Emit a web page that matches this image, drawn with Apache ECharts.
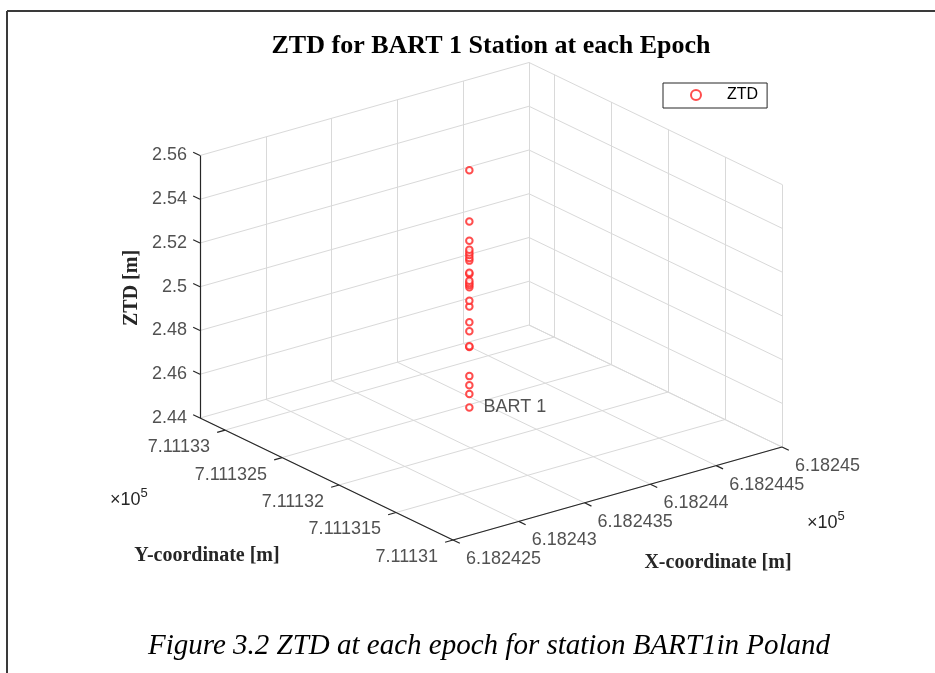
<!DOCTYPE html>
<html>
<head>
<meta charset="utf-8">
<title>ZTD for BART 1 Station at each Epoch</title>
<script src="https://cdn.jsdelivr.net/npm/echarts@6/dist/echarts.min.js"></script>
<style>
  html, body { margin: 0; padding: 0; background: #fff; }
  #chart { width: 935px; height: 673px; }
</style>
</head>
<body>
<div id="chart"></div>
<script>
  // axis ticks (metres), as shown on the plot
  var xTicks = [618242.5, 618243.0, 618243.5, 618244.0, 618244.5, 618245.0];
  var xTickLabels = ['6.182425', '6.18243', '6.182435', '6.18244', '6.182445', '6.18245'];
  var yTicks = [711131.0, 711131.5, 711132.0, 711132.5, 711133.0];
  var yTickLabels = ['7.11131', '7.111315', '7.11132', '7.111325', '7.11133'];
  var zTicks = [2.44, 2.46, 2.48, 2.50, 2.52, 2.54, 2.56];
  var zTickLabels = ['2.44', '2.46', '2.48', '2.5', '2.52', '2.54', '2.56'];

  // axis limits
  var xLim = [618242.5, 618245.0];
  var yLim = [711131.0, 711133.22];
  var zLim = [2.44, 2.56];

  // station position and ZTD per epoch
  var stationName = 'BART 1';
  var stationX = 618243.75;
  var stationY = 711132.30;
  var ztd = [2.4467, 2.4528, 2.4568, 2.4610, 2.4743, 2.4747, 2.4815, 2.4856,
             2.4928, 2.4955, 2.5016, 2.5027, 2.5036, 2.5046, 2.5077, 2.5083,
             2.5138, 2.5150, 2.5164, 2.5175, 2.5188, 2.5229, 2.5317, 2.5551];

  // view of the 3d box (orthographic, like matlab's default view)
  var origin = [453, 540];      // corner xLim[0], yLim[0], zLim[0]
  var ex = [329, -93];          // full x range
  var ey = [-253, -122];        // full y range
  var ez = [0, -262.5];         // full z range

  function proj(x, y, z) {
    var u = (x - xLim[0]) / (xLim[1] - xLim[0]);
    var v = (y - yLim[0]) / (yLim[1] - yLim[0]);
    var w = (z - zLim[0]) / (zLim[1] - zLim[0]);
    return [origin[0] + u * ex[0] + v * ey[0] + w * ez[0],
            origin[1] + u * ex[1] + v * ey[1] + w * ez[1]];
  }
  function seg(a, b) {
    return { coords: [proj(a[0], a[1], a[2]), proj(b[0], b[1], b[2])] };
  }

  // grid lines on floor and two back walls
  var gridLines = [];
  xTicks.forEach(function (x) {
    gridLines.push(seg([x, yLim[0], zLim[0]], [x, yLim[1], zLim[0]]));   // floor
    gridLines.push(seg([x, yLim[1], zLim[0]], [x, yLim[1], zLim[1]]));   // back wall
  });
  yTicks.forEach(function (y) {
    gridLines.push(seg([xLim[0], y, zLim[0]], [xLim[1], y, zLim[0]]));   // floor
    gridLines.push(seg([xLim[1], y, zLim[0]], [xLim[1], y, zLim[1]]));   // right wall
  });
  zTicks.forEach(function (z) {
    gridLines.push(seg([xLim[0], yLim[1], z], [xLim[1], yLim[1], z]));
    gridLines.push(seg([xLim[1], yLim[1], z], [xLim[1], yLim[0], z]));
  });

  // axis lines and tick marks
  var tx = 0.06, ty = 0.06;
  var axisLines = [
    seg([xLim[0], yLim[0], zLim[0]], [xLim[1], yLim[0], zLim[0]]),
    seg([xLim[0], yLim[0], zLim[0]], [xLim[0], yLim[1], zLim[0]]),
    seg([xLim[0], yLim[1], zLim[0]], [xLim[0], yLim[1], zLim[1]])
  ];
  xTicks.forEach(function (x) {
    axisLines.push(seg([x, yLim[0], zLim[0]], [x, yLim[0] - ty, zLim[0]]));
  });
  yTicks.forEach(function (y) {
    axisLines.push(seg([xLim[0], y, zLim[0]], [xLim[0] - tx, y, zLim[0]]));
  });
  zTicks.forEach(function (z) {
    axisLines.push(seg([xLim[0], yLim[1], z], [xLim[0], yLim[1] + ty, z]));
  });

  var xLabelData = xTicks.map(function (x, i) { return { name: xTickLabels[i], value: proj(x, yLim[0], zLim[0]) }; });
  var yLabelData = yTicks.map(function (y, i) { return { name: yTickLabels[i], value: proj(xLim[0], y, zLim[0]) }; });
  var zLabelData = zTicks.map(function (z, i) { return { name: zTickLabels[i], value: proj(xLim[0], yLim[1], z) }; });

  var minZtd = Math.min.apply(null, ztd);
  var pointData = ztd.map(function (z) {
    var item = { value: proj(stationX, stationY, z) };
    if (z === minZtd) {
      item.label = { show: true, formatter: stationName, position: 'right', distance: 10,
        fontFamily: 'Liberation Sans', fontSize: 18, color: '#262626' };
    }
    return item;
  });

  var tickFont = { fontFamily: 'Liberation Sans', fontSize: 18, color: '#262626' };
  var serif = 'Liberation Serif';
  var expRich = {
    b: { fontFamily: 'Liberation Sans', fontSize: 18, fill: '#262626' },
    s: { fontFamily: 'Liberation Sans', fontSize: 13, fill: '#262626', padding: [0, 0, 13, 0] }
  };

  var chart = echarts.init(document.getElementById('chart'));
  chart.setOption({
    animation: false,
    backgroundColor: '#fff',
    grid: { left: 0, right: 0, top: 0, bottom: 0 },
    xAxis: { type: 'value', min: 0, max: 935, show: false },
    yAxis: { type: 'value', min: 0, max: 673, inverse: true, show: false },
    legend: {
      data: ['ZTD'],
      left: 663, top: 83,
      borderColor: '#262626', borderWidth: 1, borderRadius: 0,
      padding: [4, 9, 5, 27],
      itemWidth: 10, itemHeight: 10,
      textStyle: { fontFamily: 'Liberation Sans', fontSize: 16, color: '#000', padding: [0, 0, 0, 21] }
    },
    graphic: [
      { type: 'line', shape: { x1: 7, y1: 11, x2: 935, y2: 11 }, style: { stroke: '#3a3a3a', lineWidth: 2 } },
      { type: 'line', shape: { x1: 7, y1: 11, x2: 7, y2: 673 }, style: { stroke: '#3a3a3a', lineWidth: 2 } },
      { type: 'text', x: 491, y: 46, style: { text: 'ZTD for BART 1 Station at each Epoch', fontFamily: serif, fontWeight: 'bold', fontSize: 26, fill: '#000', align: 'center', verticalAlign: 'middle' } },
      { type: 'text', x: 132, y: 288, rotation: Math.PI / 2, style: { text: 'ZTD [m]', fontFamily: serif, fontWeight: 'bold', fontSize: 20, fill: '#262626', align: 'center', verticalAlign: 'middle' } },
      { type: 'text', x: 207, y: 556, style: { text: 'Y-coordinate [m]', fontFamily: serif, fontWeight: 'bold', fontSize: 20, fill: '#262626', align: 'center', verticalAlign: 'middle' } },
      { type: 'text', x: 718, y: 563, style: { text: 'X-coordinate [m]', fontFamily: serif, fontWeight: 'bold', fontSize: 20, fill: '#262626', align: 'center', verticalAlign: 'middle' } },
      { type: 'text', x: 110, y: 500, style: { text: '{b|×10}{s|5}', verticalAlign: 'middle', rich: expRich } },
      { type: 'text', x: 807, y: 523, style: { text: '{b|×10}{s|5}', verticalAlign: 'middle', rich: expRich } },
      { type: 'text', x: 489, y: 646, style: { text: 'Figure 3.2 ZTD at each epoch for station BART1in Poland', fontFamily: serif, fontStyle: 'italic', fontSize: 29, fill: '#000', align: 'center', verticalAlign: 'middle' } }
    ],
    series: [
      {
        name: 'grid', type: 'lines', coordinateSystem: 'cartesian2d', silent: true, z: 1,
        lineStyle: { color: '#d9d9d9', width: 1, opacity: 1 },
        data: gridLines
      },
      {
        name: 'axes', type: 'lines', coordinateSystem: 'cartesian2d', silent: true, z: 2,
        lineStyle: { color: '#262626', width: 1.2, opacity: 1 },
        data: axisLines
      },
      {
        name: 'xLabels', type: 'scatter', symbolSize: 0, silent: true,
        label: Object.assign({ show: true, formatter: '{b}', position: [13, 19], align: 'left', verticalAlign: 'middle' }, tickFont),
        data: xLabelData
      },
      {
        name: 'yLabels', type: 'scatter', symbolSize: 0, silent: true,
        label: Object.assign({ show: true, formatter: '{b}', position: [-15, 17], align: 'right', verticalAlign: 'middle' }, tickFont),
        data: yLabelData
      },
      {
        name: 'zLabels', type: 'scatter', symbolSize: 0, silent: true,
        label: Object.assign({ show: true, formatter: '{b}', position: [-13, 0], align: 'right', verticalAlign: 'middle' }, tickFont),
        data: zLabelData
      },
      {
        name: 'ZTD', type: 'scatter', symbol: 'emptyCircle', symbolSize: 6.5, z: 5,
        itemStyle: { color: '#ff2020', borderWidth: 1.1 },
        data: pointData
      }
    ]
  });
</script>
</body>
</html>
